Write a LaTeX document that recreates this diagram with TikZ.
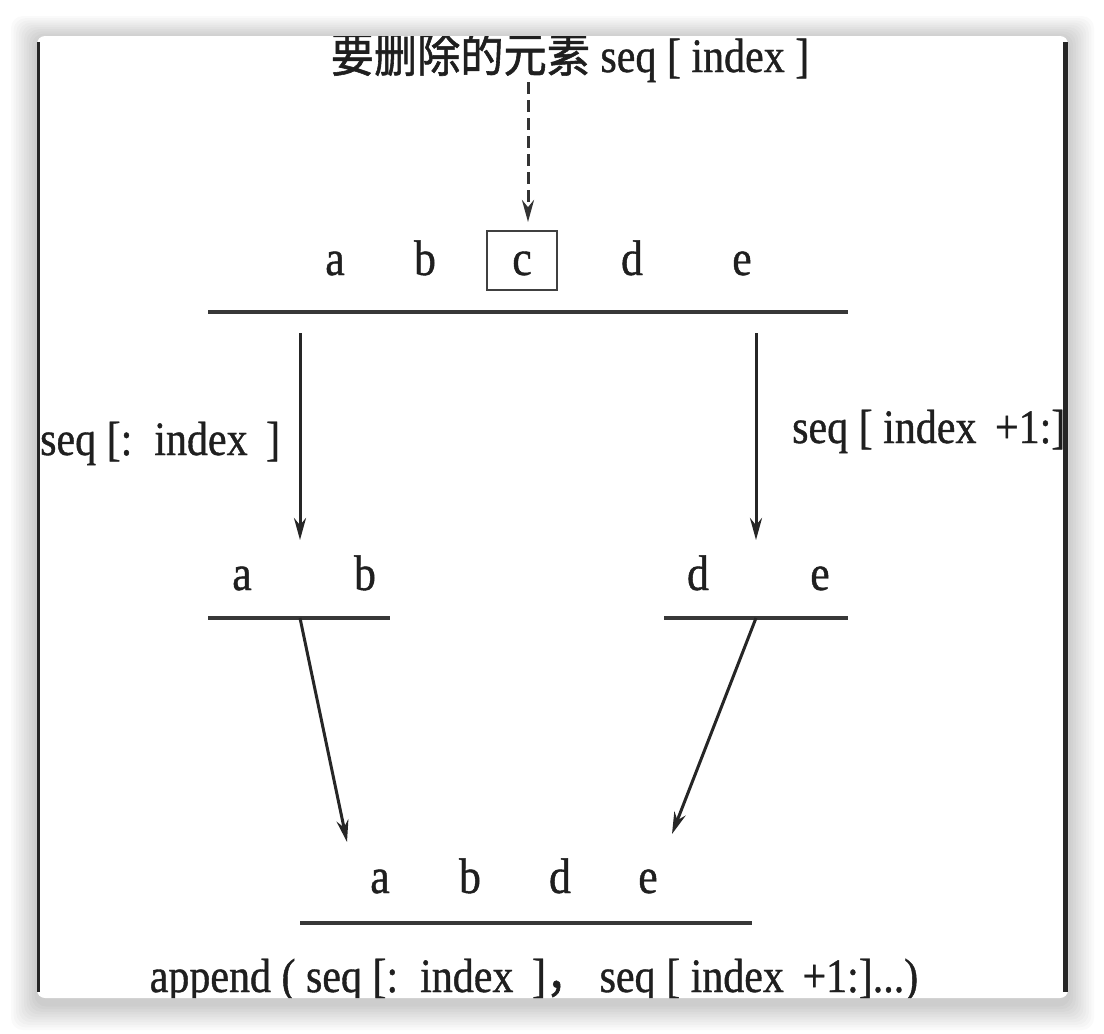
\documentclass[tikz,border=0pt]{standalone}
\usepackage{fontspec}
\setmainfont{Liberation Serif}[FakeStretch=0.875, FakeBold=0.8]
\newfontfamily\cjk{Noto Sans CJK SC}[FakeStretch=0.9, FakeBold=1.2]
\usetikzlibrary{arrows.meta}
\begin{document}
\begin{tikzpicture}[x=1pt,y=-1pt,
  txt/.style={font=\fontsize{50}{60}\selectfont, text=black!88, inner sep=0pt, anchor=base},
  lbl/.style={font=\fontsize{48}{58}\selectfont, text=black!88, inner sep=0pt, anchor=base},
  rule/.style={draw=black!78, line width=4pt},
  arr/.style={draw=black!85, line width=3pt, -{Stealth[length=22pt,width=12pt]}},
  dsh/.style={draw=black!80, line width=3pt, dash pattern=on 12pt off 6pt, -{Stealth[length=22pt,width=12pt]}}
]
\useasboundingbox (0,0) rectangle (1104,1034);
% background and shadow
\fill[white] (0,0) rectangle (1104,1034);
\foreach \i in {1,...,10}{
  \fill[black, opacity=0.02, rounded corners=12pt] (37-2.6*\i,38-2.2*\i) rectangle (1068+2.6*\i,1004+2.6*\i);
}
\fill[white, rounded corners=8pt] (37,36) rectangle (1068,998);
\draw[black!85, line width=3.5pt] (38.5,42) -- (38.5,992);
\draw[black!85, line width=4.5pt] (1065.5,42) -- (1065.5,992);

\begin{scope}
\clip[rounded corners=8pt] (37,36) rectangle (1068,998);
% top label
\node[lbl] (top) at (570,72) {{\cjk 要删除的元素} seq [ index ]};
% row 1
\node[txt] (a1) at (335,275) {a};
\node[txt] (b1) at (425,275) {b};
\node[txt] (c1) at (522,275) {c};
\node[draw=black!75, line width=2.8pt, minimum width=70pt, minimum height=59pt, inner sep=0pt] (cbox) at (522,260.5) {};
\node[txt] (d1) at (632,275) {d};
\node[txt] (e1) at (742,275) {e};
\coordinate (l1a) at (208,312);
\coordinate (l1b) at (848,312);
\draw[rule] (l1a) -- (l1b);
\coordinate (top1) at (528,82);
\coordinate (cin) at (528,222);
\draw[dsh] (top1) -- (cin);
% vertical arrows
\coordinate (ls) at (300,333);
\coordinate (le) at (300,540);
\coordinate (rs) at (756,333);
\coordinate (re) at (756,540);
\draw[arr] (ls) -- (le);
\draw[arr] (rs) -- (re);
\node[lbl, anchor=base west] (llab) at (40,455) {seq [:\, index\, ]};
\node[lbl, anchor=base west] (rlab) at (792,443) {seq [ index\, +1:]};
% row 2
\node[txt] (a2) at (242,590) {a};
\node[txt] (b2) at (365,590) {b};
\node[txt] (d2) at (698,590) {d};
\node[txt] (e2) at (820,590) {e};
\coordinate (l2a) at (208,618);
\coordinate (l2b) at (390,618);
\coordinate (l3a) at (664,618);
\coordinate (l3b) at (848,618);
\draw[rule] (l2a) -- (l2b);
\draw[rule] (l3a) -- (l3b);
% diagonal arrows
\coordinate (dls) at (300,618);
\coordinate (dle) at (347,842);
\coordinate (drs) at (756,618);
\coordinate (dre) at (672,834);
\draw[arr] (dls) -- (dle);
\draw[arr] (drs) -- (dre);
% row 3
\node[txt] (a3) at (380,893) {a};
\node[txt] (b3) at (470,893) {b};
\node[txt] (d3) at (560,893) {d};
\node[txt] (e3) at (648,893) {e};
\coordinate (l4a) at (300,923);
\coordinate (l4b) at (752,923);
\draw[rule] (l4a) -- (l4b);
\node[lbl] (bot) at (534,992) {append ( seq [:\, index\, ]{\cjk ，} seq [ index\, +1:]...)};
\end{scope}
\end{tikzpicture}
\end{document}
